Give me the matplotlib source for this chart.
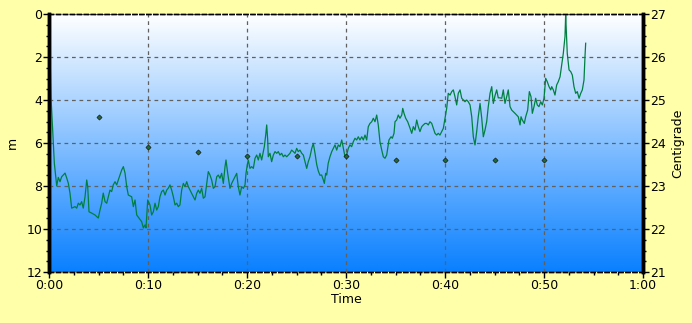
import numpy as np
import matplotlib
matplotlib.use("Agg")
import matplotlib.pyplot as plt
from matplotlib.ticker import MultipleLocator, FuncFormatter
from matplotlib.colors import LinearSegmentedColormap

# depth profile (minutes, metres)
time_min = [0.10, 0.20, 0.54, 0.78, 0.94, 1.11, 1.28, 1.62, 1.79, 1.95, 2.12, 2.29, 2.63, 2.80,
            2.96, 3.13, 3.30, 3.46, 3.64, 3.81, 3.91, 4.04, 4.31, 4.65, 4.98, 5.15, 5.32, 5.48,
            5.66, 5.83, 5.99, 6.16, 6.33, 6.49, 6.67, 6.84, 7.00, 7.34, 7.51, 7.68, 7.85, 8.01,
            8.35, 8.52, 8.69, 8.86, 9.19, 9.36, 9.53, 9.70, 9.80, 9.97, 10.20, 10.37, 10.54,
            10.71, 10.88, 11.04, 11.21, 11.38, 11.55, 11.72, 11.89, 12.05, 12.22, 12.39, 12.56,
            12.73, 12.90, 13.06, 13.23, 13.40, 13.57, 13.74, 13.91, 14.07, 14.24, 14.41, 14.58,
            14.75, 14.92, 15.08, 15.25, 15.42, 15.59, 15.76, 15.93, 16.09, 16.26, 16.43, 16.60,
            16.77, 16.94, 17.10, 17.27, 17.44, 17.61, 17.78, 17.88, 18.05, 18.28, 18.45, 18.62,
            18.79, 18.96, 19.12, 19.29, 19.46, 19.63, 19.80, 19.90, 20.03, 20.13, 20.30, 20.47,
            20.64, 20.81, 20.98, 21.14, 21.31, 21.48, 21.65, 21.75, 21.89, 21.99, 22.09, 22.15,
            22.32, 22.49, 22.66, 22.83, 23.00, 23.16, 23.33, 23.50, 23.67, 23.84, 24.01, 24.17,
            24.34, 24.51, 24.68, 24.85, 25.02, 25.18, 25.35, 25.53, 25.69, 25.86, 26.03, 26.19,
            26.36, 26.54, 26.70, 26.87, 27.04, 27.20, 27.37, 27.54, 27.71, 27.81, 27.95, 28.05,
            28.20, 28.38, 28.56, 28.72, 28.89, 29.06, 29.22, 29.39, 29.57, 29.73, 29.90, 30.07,
            30.23, 30.40, 30.57, 30.74, 30.91, 31.08, 31.24, 31.41, 31.59, 31.75, 31.92, 32.09,
            32.25, 32.42, 32.60, 32.76, 32.93, 33.10, 33.26, 33.43, 33.61, 33.77, 33.94, 34.11,
            34.21, 34.34, 34.55, 34.68, 34.85, 34.95, 35.12, 35.28, 35.45, 35.63, 35.73, 35.86,
            36.03, 36.23, 36.46, 36.64, 36.80, 36.97, 37.14, 37.30, 37.47, 37.65, 37.81, 37.98,
            38.15, 38.31, 38.48, 38.66, 38.82, 38.99, 39.16, 39.32, 39.49, 39.67, 39.83, 40.00,
            40.17, 40.33, 40.51, 40.68, 40.84, 41.01, 41.18, 41.34, 41.52, 41.69, 41.85, 42.02,
            42.19, 42.35, 42.53, 42.70, 42.86, 43.03, 43.20, 43.36, 43.54, 43.71, 43.87, 44.04,
            44.21, 44.37, 44.55, 44.72, 44.88, 45.05, 45.22, 45.38, 45.56, 45.73, 45.89, 46.06,
            46.23, 46.39, 46.57, 46.74, 46.90, 47.07, 47.24, 47.40, 47.58, 47.68, 47.81, 48.01,
            48.15, 48.35, 48.52, 48.69, 48.82, 48.99, 49.16, 49.32, 49.49, 49.67, 49.83, 50.00,
            50.17, 50.33, 50.51, 50.68, 50.78, 50.94, 51.11, 51.28, 51.44, 51.62, 51.79, 51.95,
            52.12, 52.19, 52.25, 52.35, 52.53, 52.70, 52.86, 53.03, 53.20, 53.36, 53.54, 53.71,
            53.87, 54.04, 54.14, 54.21]
depth_m = [1.75, 3.85, 6.95, 8.00, 7.60, 7.80, 7.57, 7.40, 7.63, 7.87, 8.33, 9.03, 8.96, 9.03,
           8.80, 8.88, 8.73, 9.03, 8.50, 7.72, 8.03, 9.20, 9.26, 9.35, 9.49, 9.12, 8.80, 8.33,
           8.73, 8.80, 8.50, 8.19, 8.26, 7.95, 7.80, 7.95, 7.72, 7.26, 7.10, 7.40, 8.03, 8.42,
           8.50, 8.96, 8.65, 9.35, 9.55, 9.66, 9.95, 9.81, 9.95, 8.65, 8.88, 9.35, 9.20,
           8.80, 9.12, 8.96, 8.50, 8.26, 8.19, 8.42, 8.19, 8.10, 7.95, 8.19, 8.50,
           8.88, 8.80, 8.96, 8.88, 8.19, 7.88, 8.03, 7.80, 8.03, 8.19, 8.34, 8.50,
           8.65, 8.34, 8.19, 8.34, 8.11, 8.57, 8.50, 7.88, 7.33, 7.49, 7.72, 8.11,
           8.03, 7.57, 7.49, 7.64, 7.41, 7.88, 7.10, 6.79, 7.41, 8.11, 7.88, 7.72,
           7.57, 7.41, 8.03, 8.42, 8.03, 8.11, 7.95, 7.41, 7.02, 6.79, 7.18, 7.10,
           7.18, 6.71, 6.56, 6.79, 6.48, 6.79, 6.40, 6.17, 5.63, 5.16, 5.86, 6.64,
           6.48, 6.87, 6.56, 6.40, 6.48, 6.40, 6.56, 6.48, 6.64, 6.56, 6.64, 6.56,
           6.48, 6.33, 6.40, 6.48, 6.25, 6.40, 6.33, 6.48, 6.56, 6.87, 7.18, 6.87,
           6.64, 6.25, 6.02, 6.48, 7.00, 7.30, 7.50, 7.49, 7.72, 7.88, 7.41, 7.49,
           6.95, 6.64, 6.40, 6.25, 6.09, 6.33, 6.09, 6.17, 5.86, 6.25, 6.64, 6.56,
           6.25, 6.09, 6.17, 5.94, 5.78, 5.86, 5.71, 5.86, 5.71, 5.86, 5.63, 5.86,
           5.24, 5.09, 5.01, 4.85, 5.01, 4.70, 5.16, 5.94, 6.33, 6.64, 6.71, 6.56,
           6.25, 5.86, 5.71, 5.78, 5.55, 5.01, 4.93, 4.70, 4.85, 4.70, 4.39, 4.62,
           4.85, 5.01, 5.30, 5.55, 5.24, 5.40, 4.93, 5.24, 5.47, 5.24, 5.16, 5.09,
           5.09, 5.16, 5.01, 5.09, 5.32, 5.55, 5.63, 5.55, 5.63, 5.47, 5.32, 4.85,
           4.39, 3.69, 3.77, 3.61, 3.53, 3.85, 4.23, 3.69, 3.53, 3.92, 4.00, 4.08,
           4.00, 4.08, 4.23, 4.78, 5.71, 6.09, 5.47, 4.78, 4.16, 4.85, 5.71, 5.40,
           5.01, 4.31, 3.69, 3.38, 4.16, 3.80, 3.53, 3.90, 3.90, 3.92, 3.53, 4.16,
           3.85, 3.53, 4.31, 4.47, 4.54, 4.62, 4.70, 4.78, 5.16, 4.78, 4.93, 5.09,
           4.78, 4.47, 3.61, 3.85, 4.62, 4.31, 3.92, 4.23, 4.31, 4.08, 4.23, 3.92,
           2.99, 3.15, 3.38, 3.53, 3.38, 3.53, 3.77, 3.30, 3.15, 2.92, 2.37, 1.83,
           1.05, 0.00, 0.74, 1.83, 2.60, 2.68, 2.84, 3.38, 3.69, 3.61, 3.92, 3.69,
           3.53, 3.07, 1.98, 1.36]

# water temperature samples
temp_time = [5, 10, 15, 20, 25, 30, 35, 40, 45, 50]
temp_c = [24.6, 23.9, 23.8, 23.7, 23.7, 23.7, 23.6, 23.6, 23.6, 23.6]

bg = "#FFFFAA"
fig = plt.figure(figsize=(6.92, 3.23), dpi=100, facecolor=bg)
ax = fig.add_axes([49 / 692, 51 / 323, 594 / 692, 258 / 323])
ax2 = ax.twinx()

# vertical gradient white -> blue
grad = np.linspace(0, 1, 256).reshape(-1, 1)
cmap = LinearSegmentedColormap.from_list("bg", ["#FFFFFF", "#0A80FF"])
ax.imshow(grad, cmap=cmap, aspect="auto", extent=[0, 60, 12, 0], zorder=0)

ax.plot(time_min, depth_m, color="#008040", lw=0.9, zorder=3)
ax.set_xlim(0, 60)
ax.set_ylim(12, 0)

ax2.plot(temp_time, temp_c, ls="none", marker="D", ms=2.6, mfc="#1E6B3A", mec="#1a1a1a", mew=0.5, zorder=4)
ax2.set_ylim(21, 27)

ax.xaxis.set_major_locator(MultipleLocator(10))
ax.xaxis.set_minor_locator(MultipleLocator(2.5))
ax.xaxis.set_major_formatter(FuncFormatter(lambda v, p: "%d:%02d" % (v // 60, v % 60)))
ax.yaxis.set_major_locator(MultipleLocator(2))
ax.yaxis.set_minor_locator(MultipleLocator(0.5))
ax2.yaxis.set_major_locator(MultipleLocator(1))
ax2.yaxis.set_minor_locator(MultipleLocator(0.25))

ax.grid(True, which="major", color="#606060", ls=(0, (3, 3)), lw=0.9)
ax.set_axisbelow(False)

for a in (ax, ax2):
    a.spines["left"].set_linewidth(2.5)
    a.spines["right"].set_linewidth(2.5)
    a.spines["top"].set_linestyle((0, (3, 2)))
    a.spines["bottom"].set_linestyle((0, (3, 2)))
    a.spines["top"].set_linewidth(1)
    a.spines["bottom"].set_linewidth(1)
    a.tick_params(labelsize=9, colors="#000000", length=4, width=1, pad=1)
    a.tick_params(which="minor", length=2, width=1)

ax.set_xlabel("Time", fontsize=9, labelpad=1)
ax.set_ylabel("m", fontsize=9, labelpad=5)
ax2.set_ylabel("Centigrade", fontsize=9, labelpad=4)

fig.savefig("out.png", dpi=100, facecolor=bg)
